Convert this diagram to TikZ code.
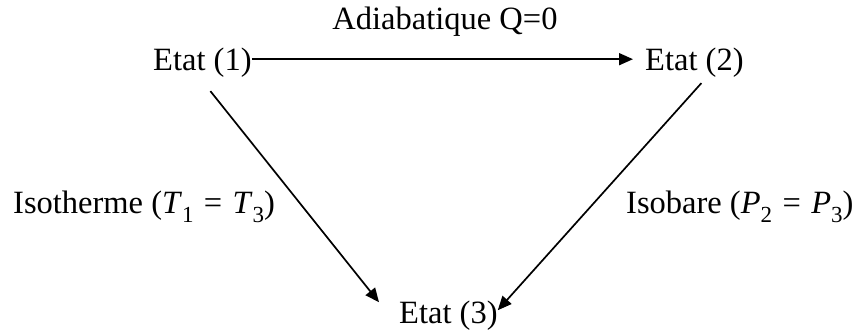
\documentclass[tikz,border=0pt]{standalone}
\usepackage{fontspec}
\setmainfont{Liberation Serif}
\usetikzlibrary{arrows.meta}
\newcommand{\mysub}[1]{\raisebox{-0.28em}{\fontsize{23}{23}\selectfont #1}}
\newcommand{\myvar}[1]{\textit{#1}}
\newcommand{\myeq}{\hspace{0.32em}=\hspace{0.32em}}
\tikzset{
  txt/.style={inner sep=0pt, font=\fontsize{32.5}{39}\selectfont},
  conn/.style={line width=1.7pt, -{Triangle[length=14pt,width=12pt]}}
}
\begin{document}
\begin{tikzpicture}[x=1pt,y=-1pt]
\useasboundingbox (0,0) rectangle (863,332);
\node[txt, anchor=base west] (e1) at (153,70) {Etat (1)};
\node[txt, anchor=base west] (e2) at (645,70) {Etat (2)};
\node[txt, anchor=base west] (e3) at (399,323) {Etat (3)};
\node[txt, anchor=base] (lad) at (445,29) {Adiabatique Q=0};
\node[txt, anchor=base west] (liso) at (13,213) {Isotherme (\myvar{T}\mysub{1}\myeq\myvar{T}\mysub{3})};
\node[txt, anchor=base west] (lisb) at (626,213) {Isobare (\myvar{P}\mysub{2}\myeq\myvar{P}\mysub{3})};
\draw[conn] ([yshift=3pt]e1.east) -- ([xshift=-12pt,yshift=3pt]e2.west);
\draw[conn] ([xshift=8pt,yshift=-14pt]e1.south) -- ([xshift=-20pt,yshift=-2pt]e3.north west);
\draw[conn] ([xshift=7pt,yshift=-6pt]e2.south) -- ([yshift=-10pt]e3.north east);
\end{tikzpicture}
\end{document}
